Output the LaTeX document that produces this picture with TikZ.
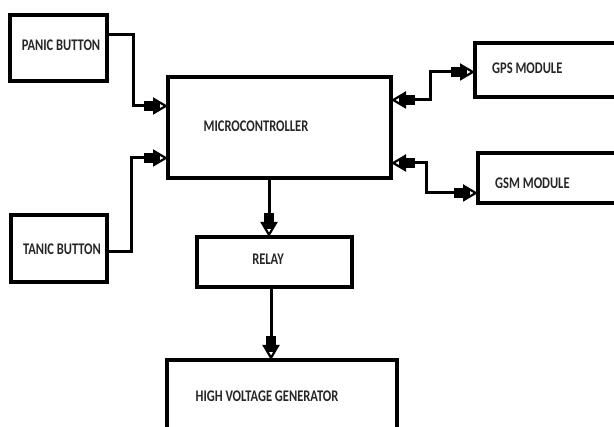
\documentclass[tikz,border=0pt]{standalone}
\usepackage{fontspec}
\usepackage{graphicx}
\setmainfont{Carlito}
\usetikzlibrary{arrows.meta}
\newcommand{\tallbox}[1]{\scalebox{1}[1.3]{#1}}
\tikzset{
  box/.style={draw=black, line width=3.8pt, fill=none, inner sep=0pt, outer sep=0pt},
  lbl/.style={font=\bfseries\fontsize{12.5}{14}\selectfont, text=black!85, inner sep=0pt},
  conn/.style={line width=3pt, line join=miter},
  tip/.tip={Rectangle[length=16pt, width=10pt, sep=-7pt] Triangle[open, length=15pt, width=17pt, line width=2.2pt]},
  arr/.style={conn, -{tip}},
  darr/.style={conn, {tip}-{tip}}
}
\begin{document}
\begin{tikzpicture}[x=1pt, y=-1pt]
\clip (0,0) rectangle (614,427);
% boxes
\node[box, minimum width=97pt, minimum height=66pt] (panic) at (58.5,48) {};
\node[box, minimum width=223pt, minimum height=101pt] (mc) at (279.5,127.5) {};
\node[box, minimum width=96pt, minimum height=67pt] (tanic) at (59,248.5) {};
\node[box, minimum width=155pt, minimum height=50pt] (relay) at (274.5,262) {};
\node[box, minimum width=230pt, minimum height=90pt] (hv) at (282,405) {};
\node[box, minimum width=160pt, minimum height=54pt] (gps) at (555,70) {};
\node[box, minimum width=160pt, minimum height=50pt] (gsm) at (558,178) {};
% labels
\node[lbl] (tpanic) at (61,45) {\tallbox{PANIC BUTTON}};
\node[lbl] (tmc) at (256,126) {\tallbox{MICROCONTROLLER}};
\node[lbl] (ttanic) at (62,249) {\tallbox{TANIC BUTTON}};
\node[lbl] (trelay) at (268,259) {\tallbox{RELAY}};
\node[lbl] (thv) at (267,396) {\tallbox{HIGH VOLTAGE GENERATOR}};
\node[lbl, anchor=west] (tgps) at (492,68) {\tallbox{GPS MODULE}};
\node[lbl, anchor=west] (tgsm) at (495,183) {\tallbox{GSM MODULE}};
% connector points
\coordinate (pA) at (107,35);
\coordinate (pB) at (133,106);
\coordinate (tA) at (107,252);
\coordinate (tB) at (131,158);
\coordinate (gA) at (391,100);
\coordinate (gB) at (430,72);
\coordinate (sA) at (391,163);
\coordinate (sB) at (426,193);
\coordinate (rA) at (269,178);
\coordinate (hA) at (271,287);
% connectors
\draw[arr] (pA) -| (pB) -- (mc.west |- pB);
\draw[arr] (tA) -| (tB) -- (mc.west |- tB);
\draw[arr] (rA) -- (relay.north -| rA);
\draw[arr] (hA) -- (hv.north -| hA);
\draw[darr] (gA) -| (gB) -- (gps.west |- gB);
\draw[darr] (sA) -| (sB) -- (gsm.west |- sB);
\end{tikzpicture}
\end{document}
